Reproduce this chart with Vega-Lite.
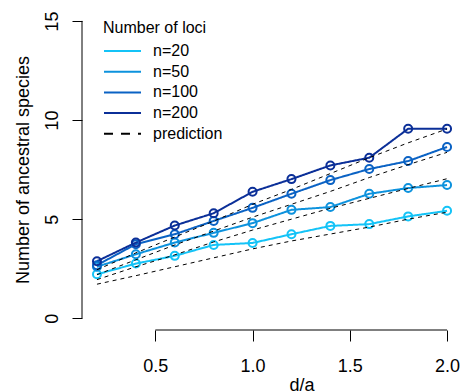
{
  "$schema": "https://vega.github.io/schema/vega-lite/v6.json",
  "width": 381,
  "height": 321,
  "autosize": {"type": "none"},
  "padding": {"left": 82, "top": 9, "right": 0, "bottom": 62},
  "background": "white",
  "config": {
    "view": {"stroke": null},
    "font": "Liberation Sans",
    "axis": {"grid": false, "domain": false, "tickColor": "black", "tickWidth": 1, "labelColor": "black", "titleColor": "black", "titleFontWeight": "normal", "labelFontSize": 18, "titleFontSize": 18}
  },
  "datasets": {
    "lines": [
      {"da": 0.2, "series": "n=20", "grp": "n=20", "count": 2.22},
      {"da": 0.4, "series": "n=20", "grp": "n=20", "count": 2.76},
      {"da": 0.6, "series": "n=20", "grp": "n=20", "count": 3.15},
      {"da": 0.8, "series": "n=20", "grp": "n=20", "count": 3.70},
      {"da": 1.0, "series": "n=20", "grp": "n=20", "count": 3.80},
      {"da": 1.2, "series": "n=20", "grp": "n=20", "count": 4.24},
      {"da": 1.4, "series": "n=20", "grp": "n=20", "count": 4.66},
      {"da": 1.6, "series": "n=20", "grp": "n=20", "count": 4.75},
      {"da": 1.8, "series": "n=20", "grp": "n=20", "count": 5.14},
      {"da": 2.0, "series": "n=20", "grp": "n=20", "count": 5.42},
      {"da": 0.2, "series": "n=50", "grp": "n=50", "count": 2.60},
      {"da": 0.4, "series": "n=50", "grp": "n=50", "count": 3.23},
      {"da": 0.6, "series": "n=50", "grp": "n=50", "count": 3.82},
      {"da": 0.8, "series": "n=50", "grp": "n=50", "count": 4.31},
      {"da": 1.0, "series": "n=50", "grp": "n=50", "count": 4.80},
      {"da": 1.2, "series": "n=50", "grp": "n=50", "count": 5.47},
      {"da": 1.4, "series": "n=50", "grp": "n=50", "count": 5.61},
      {"da": 1.6, "series": "n=50", "grp": "n=50", "count": 6.28},
      {"da": 1.8, "series": "n=50", "grp": "n=50", "count": 6.57},
      {"da": 2.0, "series": "n=50", "grp": "n=50", "count": 6.72},
      {"da": 0.2, "series": "n=100", "grp": "n=100", "count": 2.68},
      {"da": 0.4, "series": "n=100", "grp": "n=100", "count": 3.74},
      {"da": 0.6, "series": "n=100", "grp": "n=100", "count": 4.24},
      {"da": 0.8, "series": "n=100", "grp": "n=100", "count": 4.91},
      {"da": 1.0, "series": "n=100", "grp": "n=100", "count": 5.57},
      {"da": 1.2, "series": "n=100", "grp": "n=100", "count": 6.28},
      {"da": 1.4, "series": "n=100", "grp": "n=100", "count": 6.97},
      {"da": 1.6, "series": "n=100", "grp": "n=100", "count": 7.53},
      {"da": 1.8, "series": "n=100", "grp": "n=100", "count": 7.93},
      {"da": 2.0, "series": "n=100", "grp": "n=100", "count": 8.64},
      {"da": 0.2, "series": "n=200", "grp": "n=200", "count": 2.88},
      {"da": 0.4, "series": "n=200", "grp": "n=200", "count": 3.82},
      {"da": 0.6, "series": "n=200", "grp": "n=200", "count": 4.68},
      {"da": 0.8, "series": "n=200", "grp": "n=200", "count": 5.30},
      {"da": 1.0, "series": "n=200", "grp": "n=200", "count": 6.38},
      {"da": 1.2, "series": "n=200", "grp": "n=200", "count": 7.02},
      {"da": 1.4, "series": "n=200", "grp": "n=200", "count": 7.71},
      {"da": 1.6, "series": "n=200", "grp": "n=200", "count": 8.10},
      {"da": 1.8, "series": "n=200", "grp": "n=200", "count": 9.56},
      {"da": 2.0, "series": "n=200", "grp": "n=200", "count": 9.56},
      {"da": 0.2, "series": "prediction", "grp": "p20", "count": 1.72},
      {"da": 0.4, "series": "prediction", "grp": "p20", "count": 2.15},
      {"da": 0.6, "series": "prediction", "grp": "p20", "count": 2.60},
      {"da": 0.8, "series": "prediction", "grp": "p20", "count": 3.05},
      {"da": 1.0, "series": "prediction", "grp": "p20", "count": 3.50},
      {"da": 1.2, "series": "prediction", "grp": "p20", "count": 3.90},
      {"da": 1.4, "series": "prediction", "grp": "p20", "count": 4.25},
      {"da": 1.6, "series": "prediction", "grp": "p20", "count": 4.60},
      {"da": 1.8, "series": "prediction", "grp": "p20", "count": 5.00},
      {"da": 2.0, "series": "prediction", "grp": "p20", "count": 5.35},
      {"da": 0.2, "series": "prediction", "grp": "p50", "count": 1.95},
      {"da": 0.4, "series": "prediction", "grp": "p50", "count": 2.60},
      {"da": 0.6, "series": "prediction", "grp": "p50", "count": 3.20},
      {"da": 0.8, "series": "prediction", "grp": "p50", "count": 3.85},
      {"da": 1.0, "series": "prediction", "grp": "p50", "count": 4.45},
      {"da": 1.2, "series": "prediction", "grp": "p50", "count": 5.00},
      {"da": 1.4, "series": "prediction", "grp": "p50", "count": 5.55},
      {"da": 1.6, "series": "prediction", "grp": "p50", "count": 6.05},
      {"da": 1.8, "series": "prediction", "grp": "p50", "count": 6.55},
      {"da": 2.0, "series": "prediction", "grp": "p50", "count": 7.04},
      {"da": 0.2, "series": "prediction", "grp": "p100", "count": 2.20},
      {"da": 0.4, "series": "prediction", "grp": "p100", "count": 2.95},
      {"da": 0.6, "series": "prediction", "grp": "p100", "count": 3.70},
      {"da": 0.8, "series": "prediction", "grp": "p100", "count": 4.40},
      {"da": 1.0, "series": "prediction", "grp": "p100", "count": 5.10},
      {"da": 1.2, "series": "prediction", "grp": "p100", "count": 5.75},
      {"da": 1.4, "series": "prediction", "grp": "p100", "count": 6.40},
      {"da": 1.6, "series": "prediction", "grp": "p100", "count": 7.10},
      {"da": 1.8, "series": "prediction", "grp": "p100", "count": 7.75},
      {"da": 2.0, "series": "prediction", "grp": "p100", "count": 8.37},
      {"da": 0.2, "series": "prediction", "grp": "p200", "count": 2.45},
      {"da": 0.4, "series": "prediction", "grp": "p200", "count": 3.30},
      {"da": 0.6, "series": "prediction", "grp": "p200", "count": 4.10},
      {"da": 0.8, "series": "prediction", "grp": "p200", "count": 4.90},
      {"da": 1.0, "series": "prediction", "grp": "p200", "count": 5.75},
      {"da": 1.2, "series": "prediction", "grp": "p200", "count": 6.50},
      {"da": 1.4, "series": "prediction", "grp": "p200", "count": 7.30},
      {"da": 1.6, "series": "prediction", "grp": "p200", "count": 8.10},
      {"da": 1.8, "series": "prediction", "grp": "p200", "count": 8.85},
      {"da": 2.0, "series": "prediction", "grp": "p200", "count": 9.55}
    ],
    "xaxisline": [{"da": 0.5, "da2": 2.0, "count": -0.59}],
    "yaxisline": [{"da": 0.123, "count": 0, "count2": 15}]
  },
  "layer": [
    {
      "data": {"name": "xaxisline"},
      "mark": {"type": "rule", "color": "black", "strokeWidth": 1},
      "encoding": {
        "x": {"field": "da", "type": "quantitative"},
        "x2": {"field": "da2"},
        "y": {"field": "count", "type": "quantitative"}
      }
    },
    {
      "data": {"name": "yaxisline"},
      "mark": {"type": "rule", "color": "black", "strokeWidth": 1},
      "encoding": {
        "x": {"field": "da", "type": "quantitative"},
        "y": {"field": "count", "type": "quantitative"},
        "y2": {"field": "count2"}
      }
    },
    {
      "data": {"name": "lines"},
      "mark": {"type": "line", "strokeWidth": 2},
      "transform": [{"filter": "datum.series !== 'prediction'"}],
      "encoding": {
        "x": {
          "field": "da", "type": "quantitative",
          "scale": {"domain": [0.123, 2.082], "nice": false, "zero": false},
          "axis": {"values": [0.5, 1, 1.5, 2], "format": ".1f", "tickSize": 11, "labelPadding": 30, "labelBaseline": "alphabetic", "title": "d/a", "titleX": 219.5, "titleY": 60.5, "titleAlign": "center", "titleBaseline": "alphabetic"}
        },
        "y": {
          "field": "count", "type": "quantitative",
          "scale": {"domain": [-0.59, 15.6], "nice": false, "zero": false},
          "axis": {"values": [0, 5, 10, 15], "format": "d", "tickSize": 10, "labelAngle": -90, "labelAlign": "center", "labelBaseline": "alphabetic", "labelPadding": 15, "title": "Number of ancestral species", "titleAngle": -90, "titleX": -53.5, "titleY": 160.5, "titleAlign": "center", "titleBaseline": "alphabetic"}
        },
        "detail": {"field": "grp"},
        "color": {
          "field": "series", "type": "nominal",
          "scale": {"domain": ["n=20", "n=50", "n=100", "n=200", "prediction"], "range": ["#14c3f7", "#0d92dd", "#0a62c4", "#0b2f98", "black"]},
          "legend": {"title": "Number of loci", "orient": "none", "legendX": 21, "legendY": 11, "symbolType": "stroke", "symbolSize": 1369, "symbolStrokeWidth": 2, "clipHeight": 16, "labelFontSize": 16, "titleFontSize": 16, "titleFontWeight": "normal", "labelOffset": 11, "rowPadding": 4.7, "titlePadding": 7, "padding": 0, "labelColor": "black", "titleColor": "black"}
        },
        "strokeDash": {
          "field": "series", "type": "nominal",
          "scale": {"domain": ["n=20", "n=50", "n=100", "n=200", "prediction"], "range": [[1, 0], [1, 0], [1, 0], [1, 0], [9, 8]]},
          "legend": {"title": "Number of loci", "orient": "none", "legendX": 21, "legendY": 11, "symbolType": "stroke", "symbolSize": 1369, "symbolStrokeWidth": 2, "clipHeight": 16, "labelFontSize": 16, "titleFontSize": 16, "titleFontWeight": "normal", "labelOffset": 11, "rowPadding": 4.7, "titlePadding": 7, "padding": 0}
        }
      }
    },
    {
      "data": {"name": "lines"},
      "mark": {"type": "point", "filled": false, "strokeWidth": 2, "size": 64, "opacity": 1},
      "transform": [{"filter": "datum.series !== 'prediction'"}],
      "encoding": {
        "x": {"field": "da", "type": "quantitative"},
        "y": {"field": "count", "type": "quantitative"},
        "stroke": {
          "field": "series", "type": "nominal",
          "scale": {"domain": ["n=20", "n=50", "n=100", "n=200"], "range": ["#14c3f7", "#0d92dd", "#0a62c4", "#0b2f98"]},
          "legend": null
        }
      }
    },
    {
      "data": {"name": "lines"},
      "mark": {"type": "line", "strokeWidth": 1, "color": "black", "strokeDash": [4, 4]},
      "transform": [{"filter": "datum.series === 'prediction'"}],
      "encoding": {
        "x": {"field": "da", "type": "quantitative"},
        "y": {"field": "count", "type": "quantitative"},
        "detail": {"field": "grp"}
      }
    }
  ]
}
